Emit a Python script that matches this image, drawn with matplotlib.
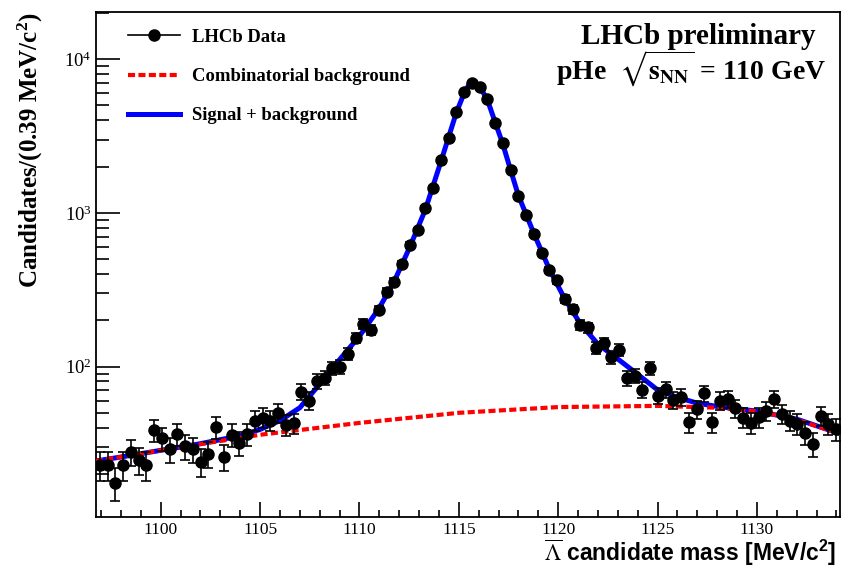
import numpy as np
import matplotlib.pyplot as plt
from matplotlib.lines import Line2D
from matplotlib.ticker import MultipleLocator, LogLocator, NullFormatter

plt.rcParams['mathtext.fontset'] = 'stix'

# anti-Lambda mass histogram: 96 bins of 0.39 MeV starting at mass_lo
mass_lo = 1096.74
bin_width = 0.39
counts = [22.9, 22.9, 17.6, 22.9, 28.0, 24.7, 22.9, 38.4, 34.2, 29.0,
          36.3, 30.2, 29.0, 24.0, 27.0, 40.3, 25.9, 36.1, 32.0, 36.3,
          44.5, 46.6, 44.5, 49.8, 41.8, 42.8, 68.8, 60.1, 80.7, 84.8,
          97.6, 100, 121, 154, 190, 173, 234, 305, 357, 464,
          619, 775, 1083, 1461, 2213, 3090, 4561, 6100, 6980, 6635,
          5492, 3869, 2841, 1905, 1290, 970, 730, 552, 426, 366,
          274, 236, 187, 180, 133, 142, 115, 128, 84.0, 87.0,
          70.5, 97.6, 64.8, 71.3, 60.7, 63.2, 43.5, 52.8, 67.1, 43.5,
          60.1, 61.4, 53.6, 46.6, 43.2, 46.8, 51.7, 61.4, 49.0, 44.5,
          42.4, 37.2, 31.3, 47.8, 42.4, 39.3]

# fitted curves
bkg_mass = [1096.74, 1100, 1105, 1110, 1115, 1120, 1125, 1128, 1130, 1131.8, 1134.2]
bkg_val = [24.3, 28.5, 36.0, 43.0, 50.0, 54.5, 55.5, 54.0, 51.0, 46.0, 36.5]

tot_mass = [1096.74, 1098, 1100, 1102, 1104, 1105, 1106, 1107, 1108, 1109,
            1110, 1110.975, 1111.755, 1112.535, 1113.315, 1114.095, 1114.875,
            1115.265, 1115.5, 1115.75, 1116.045, 1116.435, 1116.825, 1117.215,
            1117.605, 1117.995, 1118.775, 1119.555, 1120.335, 1121.115, 1122,
            1123, 1124, 1125, 1126, 1127, 1128, 1130, 1132, 1134.2]
tot_val = [24.3, 25.8, 28.5, 31.5, 35.5, 39, 44.5, 54, 77, 111,
           158, 238, 360, 600, 1050, 2150, 4500,
           6000, 6800, 7050, 6650, 5450, 3900, 2800,
           1900, 1300, 735, 430, 275, 190, 140,
           112, 89, 70.5, 63, 57.8, 55, 51.3, 45.5, 36.5]

centers = mass_lo + bin_width * (np.arange(len(counts)) + 0.5)
errs = np.sqrt(counts)

fig = plt.figure(figsize=(8.41, 5.69), dpi=100)
ax = fig.add_axes([0.1141, 0.0914, 0.8847, 0.8876])

ax.plot(tot_mass, tot_val, color='blue', lw=3.6, zorder=2)
ax.plot(bkg_mass, bkg_val, color='red', lw=3.0, dashes=(1.7, 0.8), zorder=3)
ax.errorbar(centers, counts, yerr=errs, fmt='o', color='black', ms=8,
            elinewidth=1.2, capsize=3.5, capthick=1.2, zorder=4)

ax.set_yscale('log')
ax.set_xlim(1096.74, 1134.18)
ax.set_ylim(10.5, 20300)

ax.xaxis.set_major_locator(MultipleLocator(5))
ax.xaxis.set_minor_locator(MultipleLocator(1))
ax.yaxis.set_major_locator(LogLocator(base=10))
ax.yaxis.set_minor_locator(LogLocator(base=10, subs=np.arange(2, 10)))
ax.yaxis.set_minor_formatter(NullFormatter())

ax.tick_params(axis='x', which='major', direction='in', length=11, width=1.2,
               pad=3.5, labelsize=12.5)
ax.tick_params(axis='x', which='minor', direction='in', length=5, width=1.2)
ax.tick_params(axis='y', which='major', direction='in', length=17, width=1.2,
               pad=3, labelsize=13.5)
ax.tick_params(axis='y', which='minor', direction='in', length=9, width=1.2)
for lab in ax.get_xticklabels() + ax.get_yticklabels():
    lab.set_fontfamily('Liberation Serif')
for s in ax.spines.values():
    s.set_linewidth(1.3)

ax.set_ylabel('Candidates/(0.39 MeV/c$\\mathregular{^2}$)', loc='top',
              fontfamily='Liberation Serif', fontweight='bold', fontsize=18,
              labelpad=14)
ax.set_xlabel('$\\overline{\\Lambda}$ candidate mass [MeV/c$\\mathregular{^2}$]',
              fontfamily='Liberation Sans', fontweight='bold', fontsize=16.5,
              ha='right', va='center')
ax.xaxis.set_label_coords(0.995, -0.071)

handles = [Line2D([], [], color='black', marker='o', ms=8, lw=1.2),
           Line2D([], [], color='red', lw=3.0, dashes=(1.7, 0.8)),
           Line2D([], [], color='blue', lw=3.6)]
labels = ['LHCb Data', 'Combinatorial background', 'Signal + background']
ax.legend(handles, labels, loc='upper left', bbox_to_anchor=(0.02, 1.0),
          frameon=False, handlelength=2.8, handletextpad=0.65, labelspacing=1.2,
          prop={'family': 'Liberation Serif', 'weight': 'bold', 'size': 13.4})

ax.text(0.809, 0.952, 'LHCb preliminary', transform=ax.transAxes,
        ha='center', va='center', fontsize=21, fontweight='bold',
        fontfamily='Liberation Serif')
ax.text(0.80, 0.887, 'pHe  $\\sqrt{\\mathbf{s}_{\\mathbf{NN}}}$ = 110 GeV',
        transform=ax.transAxes, ha='center', va='center', fontsize=20,
        fontweight='bold', fontfamily='Liberation Serif')

fig.savefig('out.png', dpi=100)
